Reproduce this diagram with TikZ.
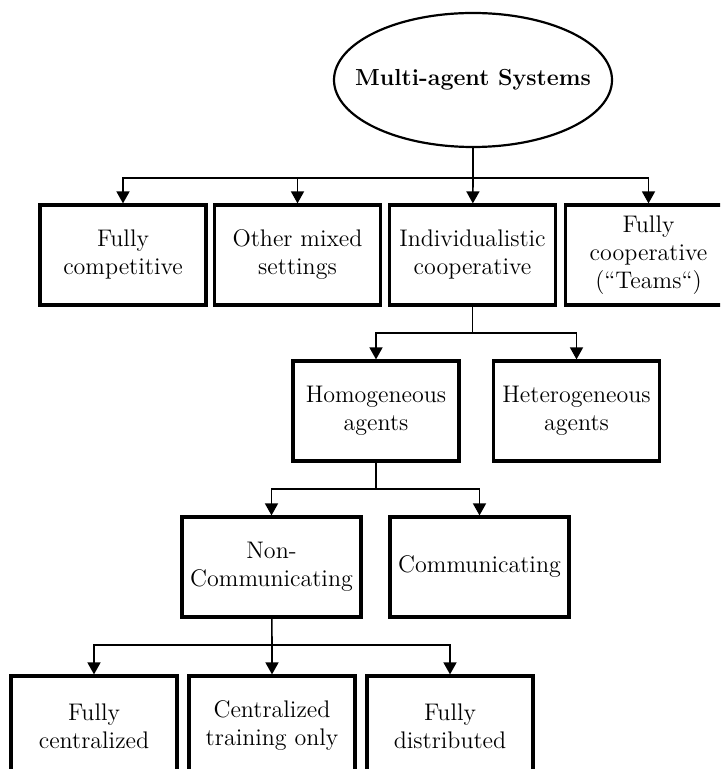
\documentclass[tikz,border=0pt]{standalone}
\usepackage{tikz}
\usetikzlibrary{arrows.meta,positioning,shapes.geometric}
\tikzset{
  flow/.style={
    rectangle,
    draw=black,
    fill=white,
    line width=1.6pt,
    minimum width=83pt,
    minimum height=50pt,
    align=center,
    font=\large,
    inner sep=2pt
  },
  wideflow/.style={flow,minimum width=89.5pt},
  root/.style={
    ellipse,
    draw=black,
    line width=1.1pt,
    minimum width=139pt,
    minimum height=67pt,
    font={\fontsize{11.6pt}{14pt}\selectfont\bfseries},
    inner xsep=-10pt,
    inner ysep=0pt
  },
  link/.style={draw=black,line width=.8pt},
  arrow/.style={link,-{Triangle[length=6pt,width=6.5pt]}}
}

\begin{document}
\begin{tikzpicture}[x=0.5pt,y=-0.5pt]
  \useasboundingbox (0,0) rectangle (720,769);
  \clip (0,0) rectangle (720,769);

  \node[root] (sys) at (473,80) {Multi-agent Systems};

  \node[flow] (comp) at (123,255) {Fully\\competitive};
  \node[flow] (mixed) at (297.5,255) {Other mixed\\settings};
  \node[flow] (indiv) at (472.5,255) {Individualistic\\cooperative};
  \node[flow] (teams) at (648.5,255) {Fully\\cooperative\\(``Teams``)};

  \node[flow] (homo) at (376,411) {Homogeneous\\agents};
  \node[flow] (hetero) at (576.5,411) {Heterogeneous\\agents};

  \node[wideflow] (noncomm) at (271.5,567) {Non-\\Communicating};
  \node[wideflow] (comm) at (479.5,567) {Communicating};

  \node[flow] (central) at (94,726) {Fully\\centralized};
  \node[flow] (ctde) at (272,726) {Centralized\\training only};
  \node[flow] (distrib) at (450,726) {Fully\\distributed};

  \coordinate (j1) at (473,178);
  \coordinate (j2) at (472.5,333);
  \coordinate (j3) at (376,489);
  \coordinate (j4) at (272,645);

  \draw[link] (sys) -- (j1);
  \draw[arrow] (j1) -| (comp);
  \draw[arrow] (j1) -| (mixed);
  \draw[arrow] (j1) -- (indiv);
  \draw[arrow] (j1) -| (teams);

  \draw[link] (indiv) -- (j2);
  \draw[arrow] (j2) -| (homo);
  \draw[arrow] (j2) -| (hetero);

  \draw[link] (homo) -- (j3);
  \draw[arrow] (j3) -| (noncomm);
  \draw[arrow] (j3) -| (comm);

  \draw[link] (noncomm) -- (j4);
  \draw[arrow] (j4) -| (central);
  \draw[arrow] (j4) -- (ctde);
  \draw[arrow] (j4) -| (distrib);
\end{tikzpicture}
\end{document}
